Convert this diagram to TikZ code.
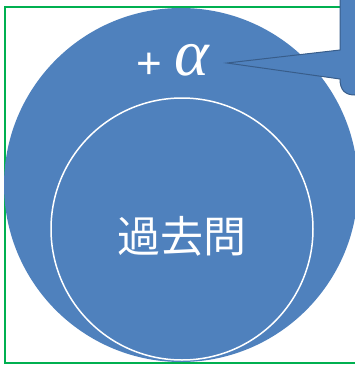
\documentclass[tikz,border=0pt]{standalone}
\usepackage{fontspec}
\usepackage{tikz}
\newfontfamily\jpfont{Noto Sans CJK JP}
\newfontfamily\grfont{Liberation Serif}
\newfontfamily\opfont{Liberation Sans}
\definecolor{discblue}{HTML}{4F81BD}
\definecolor{rimblue}{HTML}{385D8A}
\definecolor{framegreen}{HTML}{00B050}

\begin{document}
\begin{tikzpicture}[x=1pt,y=-1pt]
            \tikzstyle{every node}+=[inner sep=0pt]
            \useasboundingbox (0,0) rectangle (355,365);
            \clip (0,0) rectangle (355,365);
            \draw [framegreen, line width=1.6] (5,7) rectangle (372,363);
            \fill [discblue] (181,185) circle (177);
            \draw [white, line width=1.5] (182,229) circle (131);
            \node [white] (past) at (182,236) {\jpfont\fontsize{43}{43}\selectfont 過去問};
            \node [white] (plus) at (149,66) {\opfont\fontsize{44}{44}\selectfont +};
            \node [white, anchor=base west] (alpha) at (174,75) {\grfont\itshape\fontsize{66}{66}\selectfont α};
            \coordinate (tip) at (227,63);
            \fill [discblue, draw=rimblue, line width=1] (340,-5) -- (340,50) -- (tip) -- (340,79)
                .. controls (340,90) and (345,95) .. (355,95) -- (372,95) -- (372,-5) -- cycle;
        \end{tikzpicture}
\end{document}
